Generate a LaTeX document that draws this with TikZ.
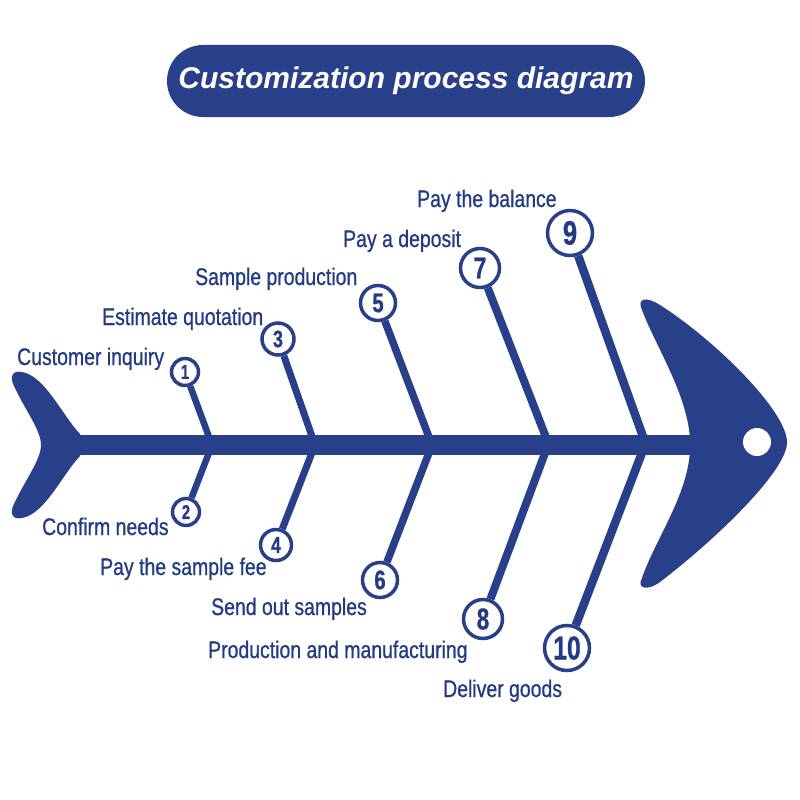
\documentclass[tikz,border=0pt]{standalone}
\usepackage{fontspec}
\usetikzlibrary{backgrounds}
\setmainfont{Liberation Sans}
\newfontfamily\lblfont{Liberation Sans}[FakeStretch=0.81,FakeBold=0.8]
\newfontfamily\numfont{Liberation Sans}[FakeStretch=0.75,FakeBold=0.8]
\definecolor{fishblue}{HTML}{283F8A}
\definecolor{textblue}{HTML}{233A85}
\newcommand\numsz[1]{\numfont\bfseries\fontsize{#1}{#1}\selectfont}
\begin{document}
\begin{tikzpicture}[x=1pt,y=-1pt,
  lbl/.style={anchor=base west, inner sep=0pt, text=textblue, font=\lblfont\fontsize{24}{24}\selectfont},
  num/.style={circle, draw=fishblue, fill=white, line width=3.5pt, inner sep=0pt, text=textblue, minimum size=#1},
  bone/.style={draw=fishblue, line width=#1},
  body/.style={fill=fishblue, draw=none}
]
\useasboundingbox (0,0) rectangle (800,800);

% title
\node[fill=fishblue, rounded corners=36pt, minimum width=478pt, minimum height=72pt, inner sep=0pt,
      text=white, font=\bfseries\itshape\fontsize{30}{30}\selectfont] (title) at (406,81) {Customization process diagram};

% junctions on the spine
\coordinate (j1) at (212,445);
\coordinate (j2) at (212,445);
\coordinate (j3) at (315,445);
\coordinate (j4) at (315,445);
\coordinate (j5) at (432,445);
\coordinate (j6) at (432,445);
\coordinate (j7) at (549,445);
\coordinate (j8) at (548,445);
\coordinate (j9) at (646,445);
\coordinate (j10) at (645,445);

% circles
\node[num=27pt, font=\numsz{20}] (c1) at (185,372) {1};
\node[num=27pt, font=\numsz{20}] (c2) at (186,512) {2};
\node[num=32pt, font=\numsz{24}] (c3) at (278,339) {3};
\node[num=31pt, font=\numsz{23}] (c4) at (276,545) {4};
\node[num=35pt, font=\numsz{27}] (c5) at (378,303) {5};
\node[num=35pt, font=\numsz{27}] (c6) at (380,580) {6};
\node[num=39pt, font=\numsz{30}] (c7) at (480,268) {7};
\node[num=39pt, font=\numsz{30}] (c8) at (483,619) {8};
\node[num=45pt, font=\numsz{34}] (c9) at (570,233) {9};
\node[num=45pt, font=\numsz{33}] (c10) at (567,648) {10};

\begin{pgfonlayer}{background}
\fill[white] (0,0) rectangle (800,800);
% bones
\draw[bone=6.5pt] (j1) -- (c1);
\draw[bone=6.5pt] (j2) -- (c2);
\draw[bone=7pt] (j3) -- (c3);
\draw[bone=7pt] (j4) -- (c4);
\draw[bone=7.5pt] (j5) -- (c5);
\draw[bone=7.5pt] (j6) -- (c6);
\draw[bone=8pt] (j7) -- (c7);
\draw[bone=8pt] (j8) -- (c8);
\draw[bone=8.5pt] (j9) -- (c9);
\draw[bone=8.5pt] (j10) -- (c10);

% spine
\fill[fishblue] (70,435) rectangle (700,455);

% tail
\path[body] (80,434) .. controls (62,415) and (45,376) .. (22,372)
  .. controls (11,370) and (10,378) .. (14,386)
  .. controls (25,410) and (41,430) .. (41,445)
  .. controls (41,460) and (25,480) .. (14,504)
  .. controls (10,512) and (11,520) .. (22,518)
  .. controls (45,514) and (62,475) .. (80,456) -- cycle;

% head
\path[body] (690,440) .. controls (688,395) and (655,345) .. (642,310)
  .. controls (636,297) and (648,297) .. (660,305)
  .. controls (715,340) and (788,412) .. (787,443)
  .. controls (786,472) and (715,540) .. (660,582)
  .. controls (648,591) and (636,589) .. (642,578)
  .. controls (655,540) and (688,495) .. (690,450) -- cycle;
\fill[white] (757,442) circle (14);
\end{pgfonlayer}

% labels
\node[lbl] (l1) at (17,365) {Customer inquiry};
\node[lbl] (l3) at (102,325) {Estimate quotation};
\node[lbl] (l5) at (195,285) {Sample production};
\node[lbl] (l7) at (343,247) {Pay a deposit};
\node[lbl] (l9) at (417,207) {Pay the balance};
\node[lbl] (l2) at (42,535) {Confirm needs};
\node[lbl] (l4) at (100,575) {Pay the sample fee};
\node[lbl] (l6) at (211,615) {Send out samples};
\node[lbl] (l8) at (208,658) {Production and manufacturing};
\node[lbl] (l10) at (443,697) {Deliver goods};
\end{tikzpicture}
\end{document}
